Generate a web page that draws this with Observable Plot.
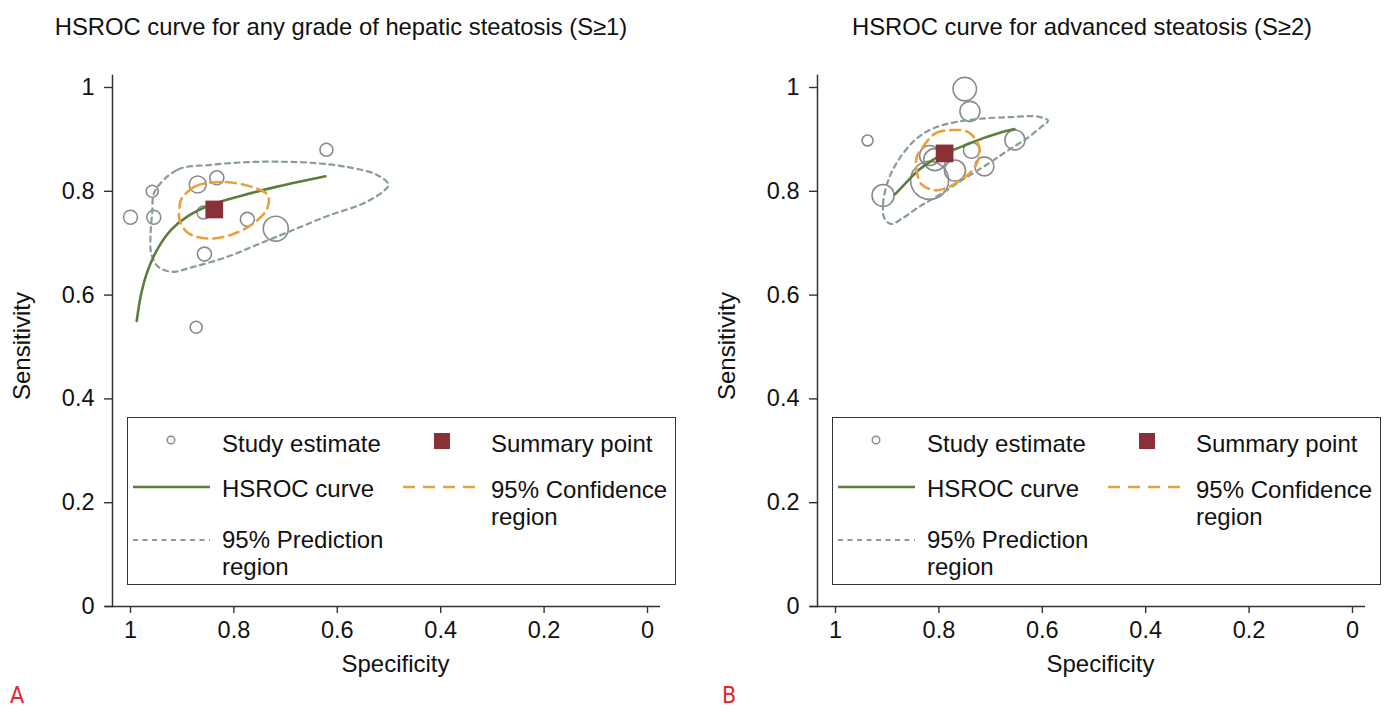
<!DOCTYPE html>
<html>
<head>
<meta charset="utf-8">
<script src="https://cdn.jsdelivr.net/npm/d3@7"></script>
<script src="https://cdn.jsdelivr.net/npm/@observablehq/plot@0.6"></script>
<style>
  body { margin: 0; background: #fff; font-family: "Liberation Sans", Arial, sans-serif; }
  #root { position: relative; width: 1392px; height: 712px; overflow: hidden; background: #fff; }
  .panel { position: absolute; top: 0; }
  .title { position: absolute; top: 13px; font-size: 23.8px; line-height: 28px; white-space: nowrap; color: #111; transform: translateX(-50%); }
  .legend { position: absolute; border: 1.5px solid #333; box-sizing: border-box; background: #fff; }
  .lt { position: absolute; font-size: 24px; line-height: 27px; white-space: nowrap; color: #111; }
  .sw { position: absolute; overflow: visible; }
  .tag { position: absolute; top: 682px; color: #e3262e; font-family: "DejaVu Sans", sans-serif; font-stretch: condensed; font-size: 23px; line-height: 26px; }
</style>
</head>
<body>
<div id="root"></div>
<script>
// ---------- shared axis tick values ----------
const specTicks = [1, 0.8, 0.6, 0.4, 0.2, 0];
const sensTicks = [0, 0.2, 0.4, 0.6, 0.8, 1];

// ---------- Panel A : any grade of hepatic steatosis (S>=1) ----------
const titleA = "HSROC curve for any grade of hepatic steatosis (S≥1)";
const studySpecA   = [1.000, 0.958, 0.955, 0.870, 0.833, 0.859, 0.774, 0.719, 0.857, 0.873, 0.621];
const studySensA   = [0.750, 0.800, 0.750, 0.813, 0.826, 0.759, 0.746, 0.728, 0.679, 0.538, 0.880];
const studyWeightA = [49, 36, 49, 72, 49, 42, 49, 156, 49, 36, 42];
const summarySpecA = 0.838;
const summarySensA = 0.765;
const hsrocSpecA = [0.988, 0.979, 0.966, 0.947, 0.921, 0.889, 0.844, 0.780, 0.716, 0.623];
const hsrocSensA = [0.550, 0.604, 0.649, 0.690, 0.726, 0.752, 0.774, 0.793, 0.809, 0.829];
const confSpecA = [0.902, 0.876, 0.825, 0.767, 0.735, 0.735, 0.761, 0.806, 0.851, 0.889, 0.905, 0.905];
const confSensA = [0.784, 0.809, 0.818, 0.809, 0.793, 0.768, 0.739, 0.716, 0.709, 0.720, 0.745, 0.771];
const predSpecA = [0.953, 0.908, 0.844, 0.780, 0.716, 0.652, 0.588, 0.524, 0.501, 0.511, 0.549, 0.620, 0.684, 0.748, 0.812, 0.876, 0.921, 0.947, 0.960, 0.961, 0.958];
const predSensA = [0.800, 0.842, 0.851, 0.856, 0.857, 0.855, 0.848, 0.832, 0.813, 0.800, 0.777, 0.752, 0.726, 0.700, 0.674, 0.655, 0.645, 0.655, 0.681, 0.720, 0.758];

// ---------- Panel B : advanced steatosis (S>=2) ----------
const titleB = "HSROC curve for advanced steatosis (S≥2)";
const studySpecB   = [0.750, 0.740, 0.938, 0.653, 0.737, 0.818, 0.808, 0.712, 0.769, 0.818, 0.908];
const studySensB   = [0.997, 0.954, 0.898, 0.899, 0.879, 0.869, 0.861, 0.848, 0.840, 0.821, 0.792];
const studyWeightB = [137, 100, 30, 100, 64, 100, 121, 90, 110, 361, 121];
const summarySpecB = 0.789;
const summarySensB = 0.873;
const hsrocSpecB = [0.885, 0.866, 0.840, 0.814, 0.789, 0.756, 0.718, 0.685, 0.654];
const hsrocSensB = [0.794, 0.814, 0.840, 0.859, 0.873, 0.886, 0.901, 0.912, 0.920];
const confSpecB = [0.834, 0.808, 0.776, 0.743, 0.724, 0.721, 0.731, 0.750, 0.782, 0.808, 0.834, 0.843, 0.843];
const confSensB = [0.881, 0.911, 0.918, 0.914, 0.891, 0.872, 0.846, 0.827, 0.808, 0.802, 0.814, 0.840, 0.866];
const predSpecB = [0.905, 0.908, 0.898, 0.879, 0.847, 0.814, 0.769, 0.718, 0.660, 0.608, 0.589, 0.602, 0.627, 0.666, 0.705, 0.756, 0.801, 0.840, 0.872, 0.892];
const predSensB = [0.747, 0.776, 0.821, 0.859, 0.898, 0.920, 0.933, 0.940, 0.943, 0.944, 0.936, 0.924, 0.904, 0.879, 0.853, 0.821, 0.792, 0.769, 0.747, 0.737];

// ---------- legend labels ----------
const legendLabels = {
  study: "Study estimate",
  summary: "Summary point",
  hsroc: "HSROC curve",
  conf: ["95% Confidence", "region"],
  pred: ["95% Prediction", "region"]
};

// ---------- colours ----------
const C = {
  axis: "#333",
  study: "#8a8a8a",
  summary: "#8b2f38",
  hsroc: "#5b7f3b",
  conf: "#e9a23b",
  pred: "#869d9a"
};

const pairs = (xs, ys) => xs.map((x, i) => ({x, y: ys[i]}));
function studiesOf(p) {
  return p.studySpec.map((x, i) => ({x, y: p.studySens[i], w: p.studyWeight[i]}));
}

function panel(p) {
  const fmt = d => String(d);
  return Plot.plot({
    width: 687,
    height: 712,
    marginLeft: 112,
    marginRight: 27,
    marginTop: 75,
    marginBottom: 106,
    x: {domain: [1, 0], range: [130, 647]},
    y: {domain: [0, 1], range: [606, 87]},
    r: {type: "sqrt", domain: [0, 400], range: [0, 20]},
    style: {fontFamily: "Liberation Sans, Arial, sans-serif", fontSize: "23.5px", color: "#111", background: "transparent", overflow: "visible"},
    marks: [
      Plot.frame({anchor: "left", stroke: C.axis, strokeWidth: 1.5}),
      Plot.ruleY([0], {insetLeft: -7, stroke: C.axis, strokeWidth: 1.5}),
      Plot.axisX({ticks: specTicks, tickSize: 7, tickPadding: 8, tickFormat: fmt, label: null, strokeWidth: 1.4, stroke: C.axis, fontSize: 23.5}),
      Plot.axisY({ticks: sensTicks, tickSize: 8, tickPadding: 10, tickFormat: fmt, label: null, strokeWidth: 1.4, stroke: C.axis, fontSize: 23.5}),
      Plot.dot(studiesOf(p), {x: "x", y: "y", r: "w", stroke: C.study, strokeWidth: 1.6, fill: "none"}),
      Plot.line(pairs(p.predSpec, p.predSens), {x: "x", y: "y", curve: "catmull-rom-closed", stroke: C.pred, strokeWidth: 2.2, strokeDasharray: "5,4.5"}),
      Plot.line(pairs(p.hsrocSpec, p.hsrocSens), {x: "x", y: "y", curve: "catmull-rom", stroke: C.hsroc, strokeWidth: 2.6}),
      Plot.line(pairs(p.confSpec, p.confSens), {x: "x", y: "y", curve: "catmull-rom-closed", stroke: C.conf, strokeWidth: 2.6, strokeDasharray: "10,6"}),
      Plot.dot([{x: p.summarySpec, y: p.summarySens}], {x: "x", y: "y", symbol: "square", r: 10, fill: C.summary}),
      Plot.text(["Specificity"], {text: d => d, frameAnchor: "bottom", textAnchor: "middle", lineAnchor: "middle", dy: 58, dx: 9, fontSize: 24}),
      Plot.text(["Sensitivity"], {text: d => d, frameAnchor: "left", textAnchor: "middle", lineAnchor: "middle", rotate: -90, dx: -90, dy: 5, fontSize: 24})
    ]
  });
}

function swatchLine(svgW, color, dash, width) {
  const ns = "http://www.w3.org/2000/svg";
  const s = document.createElementNS(ns, "svg");
  s.setAttribute("width", svgW); s.setAttribute("height", 10);
  const l = document.createElementNS(ns, "line");
  l.setAttribute("x1", 0); l.setAttribute("x2", svgW); l.setAttribute("y1", 5); l.setAttribute("y2", 5);
  l.setAttribute("stroke", color); l.setAttribute("stroke-width", width);
  if (dash) l.setAttribute("stroke-dasharray", dash);
  s.appendChild(l);
  return s;
}

function addLegend(root, ox) {
  const box = document.createElement("div");
  box.className = "legend";
  Object.assign(box.style, {left: (127 + ox) + "px", top: "417px", width: "549px", height: "168px"});
  root.appendChild(box);
  const text = (str, x, cy) => {
    const d = document.createElement("div");
    d.className = "lt"; d.textContent = str;
    d.style.left = (x + ox) + "px"; d.style.top = (cy - 13.5) + "px";
    root.appendChild(d);
  };
  const place = (el, x, y) => { el.classList.add("sw"); el.style.left = (x + ox) + "px"; el.style.top = y + "px"; root.appendChild(el); };
  const ns = "http://www.w3.org/2000/svg";
  const cs = document.createElementNS(ns, "svg");
  cs.setAttribute("width", 12); cs.setAttribute("height", 12);
  const c = document.createElementNS(ns, "circle");
  c.setAttribute("cx", 6); c.setAttribute("cy", 6); c.setAttribute("r", 3.8);
  c.setAttribute("fill", "none"); c.setAttribute("stroke", C.study); c.setAttribute("stroke-width", 1.4);
  cs.appendChild(c); place(cs, 165, 434);
  text(legendLabels.study, 222, 443);
  const sq = document.createElement("div");
  Object.assign(sq.style, {position: "absolute", width: "16px", height: "16px", background: C.summary, left: (434 + ox) + "px", top: "433px"});
  root.appendChild(sq);
  text(legendLabels.summary, 491, 443);
  place(swatchLine(77, C.hsroc, null, 2.4), 133, 482);
  text(legendLabels.hsroc, 222, 488);
  place(swatchLine(74, C.conf, "12,8", 2.4), 403, 482);
  text(legendLabels.conf[0], 491, 489);
  text(legendLabels.conf[1], 491, 516);
  place(swatchLine(77, C.pred, "5,4.5", 2), 133, 535);
  text(legendLabels.pred[0], 222, 539);
  text(legendLabels.pred[1], 222, 566);
}

const root = document.getElementById("root");
const panels = [
  {ox: 0, titleX: 341, title: titleA, tag: "A",
   studySpec: studySpecA, studySens: studySensA, studyWeight: studyWeightA,
   summarySpec: summarySpecA, summarySens: summarySensA,
   hsrocSpec: hsrocSpecA, hsrocSens: hsrocSensA,
   confSpec: confSpecA, confSens: confSensA, predSpec: predSpecA, predSens: predSensA},
  {ox: 705, titleX: 1082, title: titleB, tag: "B",
   studySpec: studySpecB, studySens: studySensB, studyWeight: studyWeightB,
   summarySpec: summarySpecB, summarySens: summarySensB,
   hsrocSpec: hsrocSpecB, hsrocSens: hsrocSensB,
   confSpec: confSpecB, confSens: confSensB, predSpec: predSpecB, predSens: predSensB}
];

for (const p of panels) {
  const svg = panel(p);
  svg.classList.add("panel");
  svg.style.left = p.ox + "px";
  root.appendChild(svg);
  const t = document.createElement("div");
  t.className = "title"; t.textContent = p.title; t.style.left = p.titleX + "px";
  root.appendChild(t);
  addLegend(root, p.ox);
  const tag = document.createElement("div");
  tag.className = "tag"; tag.textContent = p.tag; tag.style.left = (p.ox + 10 + (p.tag === "B" ? 7 : 0)) + "px";
  root.appendChild(tag);
}
</script>
</body>
</html>
